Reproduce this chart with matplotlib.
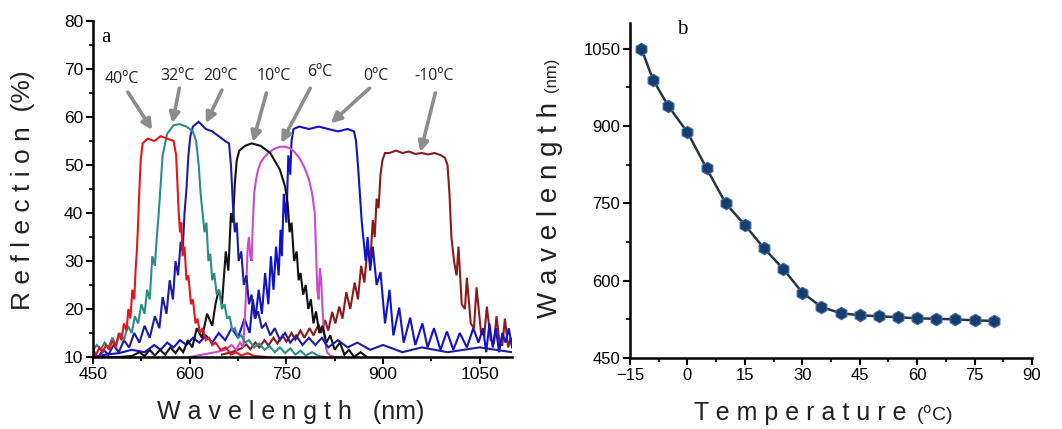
import matplotlib
matplotlib.use("Agg")
import matplotlib.pyplot as plt
from matplotlib.ticker import MultipleLocator

plt.rcParams['font.family'] = ['Liberation Sans', 'DejaVu Sans']

# ---------------- Panel a: reflection spectra ----------------
red_wl = [450, 455, 460, 465, 470, 475, 480, 485, 490, 494,
          498, 502, 505, 508, 511, 514, 516, 518, 520, 522,
          524, 527, 535, 545, 555, 565, 575, 579, 581, 583,
          585, 587, 589, 592, 595, 598, 602, 605, 609, 612,
          616, 620, 625, 630, 635, 640, 648, 656, 664, 672,
          680, 690, 700, 720]
red_r = [11.5, 10.5, 12, 11, 12.5, 11.5, 13.5, 12, 15, 13.5,
         17, 15.5, 20, 18, 24, 22, 28, 32, 38, 45,
         51, 54.5, 55.5, 55, 56, 55.5, 55, 52, 46, 40,
         36, 38, 31, 33, 26, 27, 21, 22, 17, 18,
         15, 16, 13.5, 14, 12.5, 13, 11.5, 12, 10.5, 11,
         10.3, 10.8, 10.2, 10]

teal_wl = [450, 456, 462, 468, 474, 480, 486, 492, 498, 504,
           510, 515, 520, 525, 530, 534, 538, 542, 546, 549,
           552, 555, 558, 565, 575, 585, 595, 605, 610, 614,
           617, 620, 623, 626, 629, 632, 635, 638, 642, 646,
           650, 654, 658, 662, 666, 670, 675, 680, 686, 692,
           700, 708, 716, 724, 732, 740, 748, 756, 764, 772,
           780, 790, 800, 810]
teal_r = [11.5, 12.5, 11.5, 13, 12, 14, 12.5, 15, 13.5, 16.5,
          15, 18.5, 17, 21, 19, 24, 22, 31, 29, 35,
          40, 46, 52, 56.5, 58.3, 58.5, 58, 57, 55, 50,
          44, 40, 36, 38, 30, 31.5, 26, 27.5, 23, 24,
          20, 21, 18, 18.5, 15.5, 16, 14, 14.5, 13, 13.5,
          12, 12.8, 11.5, 12.3, 11, 12, 10.8, 11.8, 10.5, 11.3,
          10.3, 11, 10.2, 10]

navy_wl = [450, 458, 466, 474, 482, 490, 498, 506, 514, 522,
           530, 538, 546, 553, 558, 564, 569, 574, 578, 582,
           586, 589, 592, 595, 598, 601, 605, 614, 625, 635,
           645, 655, 661, 664, 667, 670, 673, 676, 680, 684,
           688, 692, 696, 701, 706, 712, 718, 725, 732, 740,
           748, 756, 765, 775, 785, 795, 805, 815, 830, 845,
           860, 880, 900, 930, 960, 1000, 1050, 1100]
navy_r = [10.5, 10, 11.5, 10.5, 12.5, 11, 13.5, 12, 15, 13,
          16.5, 14, 18.5, 16, 22.5, 19, 26, 22, 30, 27,
          34, 32, 40, 45, 52, 56, 58, 59, 57.5, 57,
          56, 55, 54.5, 50, 42, 36, 38, 30, 32, 25,
          27, 21, 23, 18, 19.5, 16, 17, 14.5, 16, 13.5,
          15, 13, 14.5, 12.5, 14, 12.5, 14, 12, 13.5, 12,
          13, 11.5, 12.5, 11, 12, 11, 12, 11]

black_wl = [450, 470, 490, 510, 522, 530, 538, 546, 554, 562,
            570, 578, 584, 590, 597, 604, 611, 619, 627, 635,
            640, 645, 650, 656, 660, 664, 667, 670, 673, 677,
            686, 696, 710, 725, 740, 748, 752, 755, 758, 762,
            766, 769, 772, 776, 780, 784, 788, 792, 796, 801,
            806, 812, 818, 825, 833, 840, 847, 855, 865, 875]
black_r = [10, 10, 10, 10.2, 11, 10.2, 11.5, 10.3, 11.5, 10.5,
           12, 10.8, 12, 11, 13.5, 12, 16, 14, 19, 16.5,
           21, 24, 21, 32, 28, 40, 38, 46, 51, 53,
           54, 54.5, 54, 52.5, 49, 45.5, 42, 36, 38, 30,
           32, 26, 27.5, 23, 25, 20, 22, 17, 19.5, 15,
           16.5, 13, 14.5, 11.5, 13, 10.5, 11.5, 10, 11, 10]

mag_wl = [600, 620, 640, 655, 665, 672, 678, 683, 687, 690,
          692, 694, 696, 698, 700, 703, 706, 710, 715, 722,
          730, 740, 748, 755, 762, 770, 778, 785, 790, 794,
          796, 798, 800, 802, 804, 806, 809, 813, 818, 825, 835]
mag_r = [10, 10.5, 11, 11.5, 12.5, 11.5, 13, 12, 22, 33,
         35, 31, 30, 38, 44, 47, 49, 50.5, 51.5, 52.5,
         53.3, 53.8, 53.8, 53.5, 52.8, 51.5, 49.5, 47, 44, 40,
         32, 24, 22, 28.5, 26, 20, 14, 11, 10.3, 10, 10]

blue_wl = [450, 470, 490, 510, 530, 545, 555, 565, 575, 585,
           595, 605, 615, 625, 635, 645, 655, 665, 675, 685,
           693, 698, 702, 707, 712, 717, 722, 726, 730, 734,
           738, 741, 743, 746, 750, 753, 756, 758, 761, 770,
           785, 800, 815, 830, 845, 855, 858, 861, 864, 867,
           870, 873, 876, 880, 884, 890, 896, 903, 910, 916,
           925, 932, 942, 950, 961, 969, 979, 989, 999, 1009,
           1019, 1030, 1040, 1048, 1055, 1060, 1065, 1070, 1075, 1080,
           1085, 1090, 1095, 1100]
blue_r = [10, 10.5, 10.8, 11.5, 11, 12.5, 11.5, 13, 12, 13.5,
          12.5, 14, 13, 14.5, 13, 15, 13.5, 16, 14, 18,
          15, 22, 18, 24, 19, 27.5, 21, 31, 24, 33,
          27, 36.5, 31, 44, 38, 52, 48, 55, 57.5, 58,
          57.5, 58, 57.5, 57, 57.5, 57, 55, 50, 44, 38,
          34, 30, 35, 28, 33, 25, 27.7, 17, 24, 14.5,
          20.3, 13, 18.2, 12.5, 17, 12, 16, 11.5, 15.3, 11.5,
          15, 12, 16, 13, 16, 11, 17, 12, 16, 11,
          15, 13, 16, 12]

maroon_wl = [650, 665, 680, 688, 694, 702, 708, 716, 722, 730,
             736, 744, 750, 758, 764, 772, 778, 786, 792, 800,
             804, 810, 815, 821, 826, 832, 837, 843, 849, 856,
             861, 866, 871, 876, 880, 884, 887, 890, 893, 896,
             899, 903, 910, 920, 930, 940, 950, 960, 970, 980,
             990, 996, 1000, 1003, 1006, 1010, 1014, 1017, 1022, 1027,
             1030, 1036, 1041, 1045, 1052, 1057, 1061, 1067, 1072, 1076,
             1081, 1085, 1089, 1094, 1098, 1100]
maroon_r = [10.5, 11, 11.8, 12.6, 11.6, 13, 12, 13.5, 12.4, 14,
            12.8, 14.5, 13.2, 15, 13.6, 15.5, 14, 16, 14.5, 16.8,
            15, 17.7, 15.5, 19.4, 17, 20.5, 18, 23.5, 20, 25.5,
            22, 29, 25.5, 33, 29.5, 38.5, 35, 43, 41, 48,
            51, 52.5, 52.5, 53, 52.5, 52.8, 52.3, 52.5, 52.2, 52.5,
            52, 51.5, 50, 44, 35, 30, 27, 33, 21, 20,
            26.5, 17, 16, 24.5, 15, 14.5, 20.5, 13.5, 13, 18.5,
            12.5, 12.5, 18, 12, 14, 13]

series = [
    (maroon_wl, maroon_r, '#8b1a1a'),
    (blue_wl, blue_r, '#1212c8'),
    (mag_wl, mag_r, '#c84ccc'),
    (black_wl, black_r, '#111111'),
    (navy_wl, navy_r, '#1c1ca6'),
    (teal_wl, teal_r, '#2a8e86'),
    (red_wl, red_r, '#e3161b'),
]

labels = ['40ºC', '32ºC', '20ºC', '10ºC', '6ºC', '0ºC', '-10ºC']
label_xy = [(495, 68), (581, 68.5), (648, 68.5), (730, 68.5), (802, 69.4), (889, 68.5), (979, 68.5)]
arrow_tail = [(504, 65.2), (584, 66), (650, 65.6), (719, 65), (787, 66), (879, 66), (981, 65)]
arrow_head = [(542, 57.3), (573, 58.7), (625, 58.7), (698, 54.8), (742, 54.6), (819, 58.7), (958, 52.7)]

# ---------------- Panel b: peak wavelength vs temperature ----------------
temps = [-12, -9, -5, 0, 5, 10, 15, 20, 25, 30, 35, 40, 45, 50, 55, 60, 65, 70, 75, 80]
peak_wl = [1050, 990, 939, 888, 818, 750, 708, 663, 623, 577, 549, 537, 533, 531, 529, 527, 526, 525, 523, 522]

W, H = 1062, 429
fig = plt.figure(figsize=(W / 100, H / 100), dpi=100)

def fx(px):
    return px / W

def fy(py):
    return 1 - py / H

axA = fig.add_axes([fx(93), fy(357), fx(512 - 93), (357 - 21) / H])
axB = fig.add_axes([fx(630), fy(358), fx(1032 - 630), (358 - 23) / H])

for wl, r, c in series:
    axA.plot(wl, r, color=c, lw=1.5, solid_joinstyle='miter')

axA.set_xlim(450, 1100)
axA.set_ylim(10, 80)
axA.xaxis.set_major_locator(MultipleLocator(150))
axA.xaxis.set_minor_locator(MultipleLocator(75))
axA.yaxis.set_major_locator(MultipleLocator(10))
axA.yaxis.set_minor_locator(MultipleLocator(5))

for lab, (tx, ty), (ax0, ay0), (hx, hy) in zip(labels, label_xy, arrow_tail, arrow_head):
    axA.text(tx, ty, lab, ha='center', va='center', fontsize=11.5,
             family=['Open Sans', 'DejaVu Sans'], color='#222222')
    axA.annotate('', xy=(hx, hy), xytext=(ax0, ay0),
                 arrowprops=dict(arrowstyle='-|>', color='#8c8c8c', lw=2.6,
                                 mutation_scale=15, shrinkA=0, shrinkB=0))

axA.text(0.02, 0.95, 'a', transform=axA.transAxes, fontsize=15,
         family=['Liberation Serif'], ha='left', va='center')

axB.plot(temps, peak_wl, color='#2b3440', lw=1.8, marker='h', markersize=9,
         markerfacecolor='#163d6e', markeredgecolor='#3d6fa6', markeredgewidth=0.8)
axB.set_xlim(-15, 90)
axB.set_ylim(450, 1100)
axB.xaxis.set_major_locator(MultipleLocator(15))
axB.xaxis.set_minor_locator(MultipleLocator(7.5))
axB.yaxis.set_major_locator(MultipleLocator(150))
axB.yaxis.set_minor_locator(MultipleLocator(75))
fig.text(fx(682), fy(30), 'b', fontsize=15, family=['Liberation Serif'], ha='center', va='center')

for ax in (axA, axB):
    ax.spines['top'].set_visible(False)
    ax.spines['right'].set_visible(False)
    ax.spines['left'].set_linewidth(1.8)
    ax.spines['bottom'].set_linewidth(1.8)
    ax.tick_params(which='major', direction='out', length=5, width=1.5, labelsize=12.5, pad=2)
    ax.tick_params(which='minor', direction='out', length=3, width=1.2)
    ax.patch.set_alpha(0)

axB.tick_params(which='major', labelsize=12)

# axis titles (spaced lettering)
fig.text(fx(23), fy(190), 'R e f l e c t i o n  (%)', rotation=90, ha='center', va='center',
         fontsize=19, color='#222222')
fig.text(fx(291), fy(412), 'W a v e l e n g t h   (nm)', ha='center', va='center',
         fontsize=18, color='#222222')
fig.text(fx(550), fy(210), 'W a v e l e n g t h', rotation=90, ha='center', va='center',
         fontsize=20, color='#222222')
fig.text(fx(552), fy(75), '(nm)', rotation=90, ha='center', va='center',
         fontsize=12, color='#222222')
fig.text(fx(800), fy(413), 'T e m p e r a t u r e', ha='center', va='center',
         fontsize=18, color='#222222')
fig.text(fx(934), fy(415), '($^{\\mathrm{o}}$C)', ha='center', va='center',
         fontsize=14, color='#222222')

fig.savefig('out.png', dpi=100)
